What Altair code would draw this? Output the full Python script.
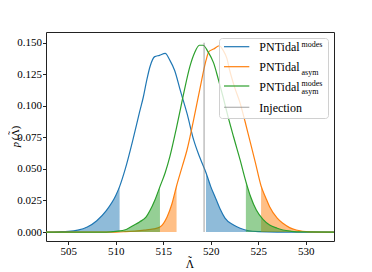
import altair as alt
import pandas as pd

# ---- data ----
blue_x = [502.6, 504, 505, 506, 507, 508, 509, 510, 510.4, 511, 511.8, 512.5, 512.9, 513.25, 513.6,
          514.1, 514.6, 515.2, 515.7, 516.2, 516.8, 517.5, 518.2, 518.8, 519.5, 520, 520.5, 521,
          521.5, 522.4, 523.1, 524, 525, 527, 533]
blue_y = [0, 0.0002, 0.0005, 0.0015, 0.004, 0.009, 0.017, 0.029, 0.036, 0.05, 0.073, 0.095, 0.107,
          0.12, 0.131, 0.139, 0.140, 0.1415, 0.136, 0.128, 0.112, 0.094, 0.073, 0.06, 0.047, 0.036,
          0.027, 0.018, 0.011, 0.0055, 0.003, 0.001, 0.0003, 0, 0]

orange_x = [502.6, 510, 511, 512, 513, 514, 514.65, 515.4, 515.9, 516.4, 517, 517.5, 518.2, 518.9,
            519.5, 519.8, 520.3, 520.9, 521.3, 521.7, 522.0, 522.5, 523.1, 523.6, 524.1, 524.7,
            525.3, 525.8, 526.2, 527.0, 527.6, 528.3, 529.0, 530.4, 533]
orange_y = [0, 0, 0.0003, 0.0008, 0.0015, 0.0025, 0.004, 0.012, 0.022, 0.0365, 0.052, 0.065, 0.089,
            0.115, 0.136, 0.143, 0.145, 0.1476, 0.144, 0.1376, 0.128, 0.115, 0.102, 0.088, 0.073,
            0.055, 0.0365, 0.027, 0.020, 0.011, 0.0069, 0.0035, 0.0016, 0.0002, 0]

green_x = [502.6, 509, 510, 511.1, 511.8, 512.5, 513.2, 513.6, 514.1, 514.65, 515.2, 515.7, 516.4,
           517.1, 517.8, 518.3, 518.8, 519.2, 519.7, 520.3, 520.8, 521.3, 521.8, 522.4, 523.1,
           523.7, 524.2, 524.8, 525.5, 526.2, 527, 527.6, 528.5, 529.5, 533]
green_y = [0, 0, 0.0005, 0.002, 0.005, 0.008, 0.012, 0.017, 0.025, 0.036, 0.047, 0.060, 0.083,
           0.108, 0.131, 0.142, 0.148, 0.148, 0.143, 0.134, 0.121, 0.107, 0.092, 0.0755, 0.057,
           0.040, 0.028, 0.0174, 0.010, 0.0055, 0.003, 0.0016, 0.0006, 0.0001, 0]

series_names = ["modes", "asym", "modes_asym"]
series_colors = ["#1f77b4", "#ff7f0e", "#2ca02c"]
tail_low = [510.4, 516.4, 514.65]
tail_high = [519.5, 525.3, 523.7]

injection_x = [519.3]
injection_y = [0.0]
injection_y2 = [0.15]

x_ticks = [505, 510, 515, 520, 525, 530]
y_ticks = [0.0, 0.025, 0.05, 0.075, 0.1, 0.125, 0.15]
x_domain = [502.65, 532.98]
y_domain = [-0.0071, 0.1585]

legend_main = ["PNTidal", "PNTidal", "PNTidal", "Injection"]
legend_sup = ["modes", "", "modes", ""]
legend_sub = ["", "asym", "asym", ""]
legend_colors = ["#1f77b4", "#ff7f0e", "#2ca02c", "#7f7f7f"]

x_title = "Λ"
y_title_p = "p"
y_title_rest = "(Λ)"
tilde = "\u02dc"

FONT = "Liberation Serif"

xs = alt.Scale(domain=x_domain, nice=False, zero=False)
ys = alt.Scale(domain=y_domain, nice=False, zero=False)
X_AX = alt.Axis(values=x_ticks, title=None, format="d", labelOverlap=False)
Y_AX = alt.Axis(values=y_ticks, title=None, format=".3f", labelOverlap=False)


def X(f="x:Q"):
    return alt.X(f, scale=xs, axis=X_AX)


def Y(f="y:Q"):
    return alt.Y(f, scale=ys, axis=Y_AX)


layers = []
all_x = [blue_x, orange_x, green_x]
all_y = [blue_y, orange_y, green_y]
for i, name in enumerate(series_names):
    df = pd.DataFrame({"x": all_x[i], "y": all_y[i]})
    line = alt.Chart(df).mark_line(color=series_colors[i], strokeWidth=1.2, clip=True,
                                   interpolate="monotone").encode(x=X(), y=Y())
    low = alt.Chart(df[df.x <= tail_low[i]]).mark_area(
        color=series_colors[i], opacity=0.5, clip=True, interpolate="monotone").encode(x=X(), y=Y())
    high = alt.Chart(df[df.x >= tail_high[i]]).mark_area(
        color=series_colors[i], opacity=0.5, clip=True, interpolate="monotone").encode(x=X(), y=Y())
    layers += [line, low, high]

inj = alt.Chart(pd.DataFrame({"x": injection_x, "y": injection_y, "y2": injection_y2})).mark_rule(
    color="#7f7f7f", opacity=0.5, strokeWidth=1.5).encode(x=X(), y=Y(), y2="y2:Q")
layers.append(inj)

# ---- legend (drawn manually to allow super/subscripts) ----
one = pd.DataFrame({"a": [0]})
box = alt.Chart(one).mark_rect(fill="white", fillOpacity=0.8, stroke="#d0d0d0", strokeWidth=1,
                               cornerRadius=3).encode(
    x=alt.value(173.5), x2=alt.value(282.5), y=alt.value(6.5), y2=alt.value(86.5))
layers.append(box)
row_y = [14.7, 34.7, 54.0, 75.3]
for r in range(4):
    layers.append(alt.Chart(one).mark_rule(color=legend_colors[r], strokeWidth=1.2,
                                           opacity=0.6 if r == 3 else 1).encode(
        x=alt.value(178), x2=alt.value(203.3), y=alt.value(row_y[r]), y2=alt.value(row_y[r])))
    layers.append(alt.Chart(pd.DataFrame({"t": [legend_main[r]]})).mark_text(
        font=FONT, fontSize=12, align="left", baseline="alphabetic", color="black").encode(
        x=alt.value(213.3), y=alt.value(row_y[r] + 4.5), text="t:N"))
    if legend_sup[r]:
        layers.append(alt.Chart(pd.DataFrame({"t": [legend_sup[r]]})).mark_text(
            font=FONT, fontSize=8, align="left", baseline="alphabetic", color="black").encode(
            x=alt.value(255.5), y=alt.value(row_y[r] + 0.3), text="t:N"))
    if legend_sub[r]:
        layers.append(alt.Chart(pd.DataFrame({"t": [legend_sub[r]]})).mark_text(
            font=FONT, fontSize=8, align="left", baseline="alphabetic", color="black").encode(
            x=alt.value(255.5), y=alt.value(row_y[r] + 8), text="t:N"))

# ---- axis titles (with the tilde accent drawn on top of Λ) ----
def txt(s, x, y, size, angle=0, style="normal", align="center"):
    return alt.Chart(pd.DataFrame({"t": [s]})).mark_text(
        font=FONT, fontSize=size, align=align, baseline="alphabetic", angle=angle,
        fontStyle=style, color="black").encode(x=alt.value(x), y=alt.value(y), text="t:N")

layers.append(txt(x_title, 144, 236, 11.5))
layers.append(txt(tilde, 144, 232.5, 11.5))
layers.append(txt(y_title_p, -27.5, 112.5, 10.5, angle=270, style="italic"))
layers.append(txt(y_title_rest, -27.5, 101.0, 10.5, angle=270))
layers.append(txt(tilde, -30.5, 101.0, 10.5, angle=270))

chart = alt.layer(*layers).properties(
    width=288, height=209,
    autosize=alt.AutoSizeParams(type="none"),
    padding={"left": 38, "top": 24, "right": 10, "bottom": 31},
).configure_view(stroke="#222222", strokeWidth=1).configure_axis(
    domain=False, grid=False, ticks=True, tickColor="#222222", tickSize=3.5, tickWidth=1,
    labelFont=FONT, labelFontSize=11, labelColor="black", labelPadding=1,
)

chart.save("out.html", embed_options={"renderer": "svg", "actions": False})
